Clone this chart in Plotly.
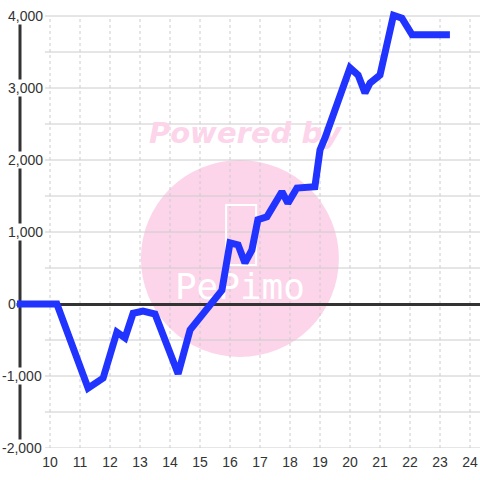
import plotly.graph_objects as go

# ---- data ----
x_vals = [8.9, 10.23, 11.27, 11.5, 11.77, 12.23, 12.5, 12.77, 13.1, 13.5, 14.27, 14.67,
          15.07, 15.33, 15.73, 16.0, 16.27, 16.5, 16.73, 16.93, 17.23, 17.73, 17.93,
          18.23, 18.83, 19.0, 19.17, 20.0, 20.27, 20.5, 20.67, 21.0, 21.17, 21.45,
          21.73, 22.07, 23.33]
y_vals = [0, 0, -1170, -1110, -1030, -390, -470, -130, -100, -140, -970, -360,
          -150, -20, 190, 850, 820, 570, 750, 1170, 1210, 1560, 1400,
          1610, 1630, 2140, 2310, 3280, 3180, 2930, 3070, 3180, 3530, 4010,
          3970, 3740, 3740]
x_ticks = list(range(10, 25))
y_ticks = [-2000, -1000, 0, 1000, 2000, 3000, 4000]
y_grid = list(range(-2000, 4001, 500))

PINK = "#fcd5ea"
GRID = "#cccccc"
DARK = "#333333"

fig = go.Figure()

# watermark texts (below the series)
fig.add_trace(go.Scatter(x=[16.5], y=[2330], mode="text", text=["Powered by"],
                         textfont=dict(family="DejaVu Sans", size=29, color=PINK,
                                       weight="bold", style="italic"),
                         hoverinfo="skip", showlegend=False))
fig.add_trace(go.Scatter(x=[16.33], y=[194], mode="text", text=["PePimo"],
                         textfont=dict(family="DejaVu Sans Mono", size=36, color="white"),
                         hoverinfo="skip", showlegend=False))

fig.add_trace(go.Scatter(x=x_vals, y=y_vals, mode="lines",
                         line=dict(color="#2133ff", width=7),
                         hoverinfo="skip", showlegend=False))

shapes = []
# pink circle
shapes.append(dict(type="circle", xref="x", yref="y", x0=13.03, x1=19.63, y0=-736, y1=2000,
                   fillcolor=PINK, line=dict(width=0), layer="below"))
# horizontal grid
for g in y_grid:
    shapes.append(dict(type="line", xref="x", yref="y", x0=9.83, x1=24.4, y0=g, y1=g,
                       line=dict(color=GRID, width=1), layer="below"))
# vertical dotted grid
for t in x_ticks:
    shapes.append(dict(type="line", xref="x", yref="y", x0=t, x1=t, y0=-2000, y1=4000,
                       line=dict(color=GRID, width=1, dash="3px,3px"), layer="below"))
# phone outline in logo
shapes.append(dict(type="rect", xref="x", yref="y", x0=15.87, x1=16.87, y0=540, y1=1375,
                   line=dict(color="white", width=2), layer="below"))
# y axis line
shapes.append(dict(type="line", xref="x", yref="y", x0=9.0, x1=9.0, y0=-2000, y1=4000,
                   line=dict(color=DARK, width=3), layer="below"))

annotations = []
for v in y_ticks:
    txt = f"{v:,}"
    if v < 0:
        annotations.append(dict(xref="paper", yref="y", x=(43 - 15) / 465, y=v, text=txt,
                                xanchor="right", yanchor="middle", showarrow=False,
                                bgcolor="white", borderpad=0,
                                font=dict(family="Liberation Sans", size=14, color=DARK)))
    else:
        annotations.append(dict(xref="paper", yref="y", x=(7 - 15) / 465, y=v, text=txt,
                                xanchor="left", yanchor="middle", showarrow=False,
                                bgcolor="white", borderpad=0,
                                font=dict(family="Liberation Sans", size=14, color=DARK)))

fig.update_layout(
    width=480, height=480,
    margin=dict(l=15, r=0, t=0, b=32),
    paper_bgcolor="white", plot_bgcolor="white",
    shapes=shapes, annotations=annotations,
    xaxis=dict(range=[8.8333, 24.3333], tickvals=x_ticks, ticktext=[str(t) for t in x_ticks],
               showgrid=False, zeroline=False, showline=False, ticks="",
               ticklabelstandoff=4,
               tickfont=dict(family="Liberation Sans", size=14, color=DARK)),
    yaxis=dict(range=[-2000, 4222.2], showticklabels=False, showgrid=False,
               zeroline=True, zerolinecolor=DARK, zerolinewidth=3, showline=False, ticks=""),
)

fig.write_html("out.html", config={"displayModeBar": False},
               post_script="document.body.style.margin='0';document.body.style.overflow='hidden';")
